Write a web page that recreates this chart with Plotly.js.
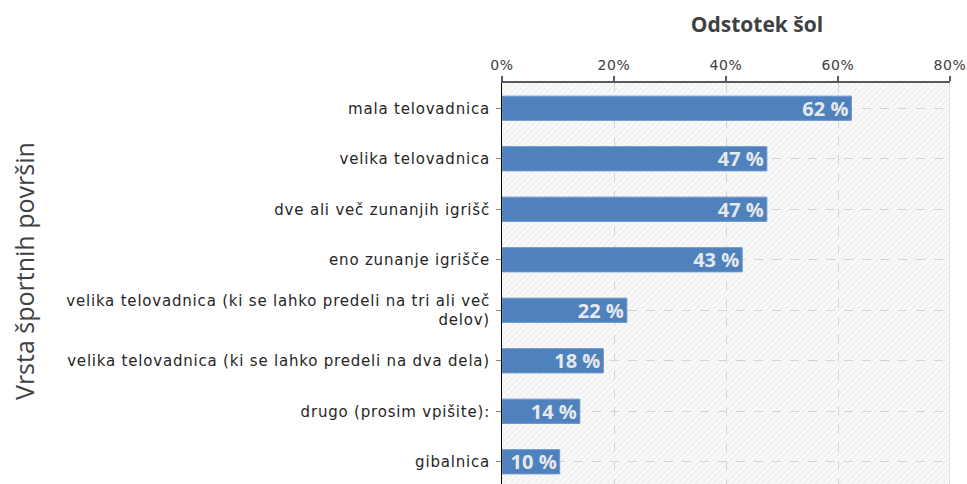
<!DOCTYPE html>
<html>
<head>
<meta charset="utf-8">
<script src="https://cdn.plot.ly/plotly-3.0.1.min.js"></script>
<style>
html,body{margin:0;padding:0;background:#fff;}
#chart{width:967px;height:484px;}
#chart .ytick text{letter-spacing:0.8px;}
#chart .xtick text{letter-spacing:0.6px;}
</style>
</head>
<body>
<div id="chart"></div>
<script>
const categories = [
  'mala telovadnica',
  'velika telovadnica',
  'dve ali več zunanjih igrišč',
  'eno zunanje igrišče',
  'velika telovadnica (ki se lahko predeli na tri ali več<br>delov)',
  'velika telovadnica (ki se lahko predeli na dva dela)',
  'drugo (prosim vpišite):',
  'gibalnica'
];
const values = [62.4, 47.3, 47.3, 42.9, 22.3, 18.1, 13.9, 10.3];
const valueLabels = ['62 %', '47 %', '47 %', '43 %', '22 %', '18 %', '14 %', '10 %'];
const xTickValues = [0, 20, 40, 60, 80];
const xTickLabels = ['0%', '20%', '40%', '60%', '80%'];

const W = 448, H = 401;
let lines = '';
for (let k = -H; k < W + H; k += 6) {
  lines += `<line x1="${k}" y1="${H}" x2="${k + H}" y2="0" stroke="#e9e9e9" stroke-width="1"/>`;
}
const svg = `<svg xmlns="http://www.w3.org/2000/svg" width="${W}" height="${H}" viewBox="0 0 ${W} ${H}"><rect width="${W}" height="${H}" fill="#f8f8f8"/>${lines}</svg>`;
const bgSrc = 'data:image/svg+xml;charset=utf-8,' + encodeURIComponent(svg);

const trace = {
  type: 'bar',
  orientation: 'h',
  y: categories,
  x: values,
  text: valueLabels,
  textposition: 'inside',
  insidetextanchor: 'end',
  constraintext: 'none',
  textfont: {family: 'Open Sans, DejaVu Sans, sans-serif', size: 20, color: '#e6e9ee', weight: 'bold'},
  marker: {color: '#4f81bd', line: {color: '#6a97cf', width: 1}},
  width: 0.48,
  hoverinfo: 'none'
};

const layout = {
  width: 967,
  height: 484,
  margin: {l: 502, r: 17, t: 83, b: 0, pad: 0},
  paper_bgcolor: '#ffffff',
  plot_bgcolor: '#f8f8f8',
  showlegend: false,
  font: {family: 'DejaVu Sans, sans-serif', size: 15, color: '#404040'},
  title: {
    text: 'Odstotek šol',
    x: 757 / 967, xanchor: 'center', xref: 'container',
    y: 1 - 25 / 484, yanchor: 'middle', yref: 'container',
    font: {family: 'Open Sans, sans-serif', size: 21, color: '#404040', weight: 'bold'}
  },
  xaxis: {
    side: 'top',
    range: [0, 80],
    tickvals: xTickValues,
    ticktext: xTickLabels,
    showline: true, linecolor: '#595959', linewidth: 2,
    ticks: 'outside', ticklen: 5, tickcolor: '#595959', tickwidth: 2,
    showgrid: true, gridcolor: '#d4d4d4', griddash: 'dash', gridwidth: 1,
    zeroline: false,
    tickfont: {family: 'DejaVu Sans, sans-serif', size: 14, color: '#404040'},
    fixedrange: true
  },
  yaxis: {
    type: 'category',
    range: [7.44, -0.5],
    showline: true, linecolor: '#000000', linewidth: 1,
    ticks: 'outside', ticklen: 5, tickcolor: '#808080',
    showgrid: true, gridcolor: '#d4d4d4', griddash: 'dash', gridwidth: 1,
    zeroline: false,
    tickfont: {family: 'DejaVu Sans, sans-serif', size: 15, color: '#262626'},
    ticklabelstandoff: 3,
    fixedrange: true
  },
  images: [{
    source: bgSrc, xref: 'paper', yref: 'paper', x: 0, y: 1, sizex: 1, sizey: 1,
    sizing: 'stretch', xanchor: 'left', yanchor: 'top', layer: 'below'
  }],
  shapes: [{
    type: 'line', xref: 'x', yref: 'paper', x0: 80, x1: 80, y0: 0, y1: 1,
    line: {color: '#d0d0d0', width: 1}, layer: 'below'
  }],
  annotations: [{
    text: 'Vrsta športnih površin',
    xref: 'paper', yref: 'paper',
    x: (24 - 502) / 448, y: 1 - (271 - 83) / 401,
    xanchor: 'center', yanchor: 'middle',
    textangle: -90, showarrow: false,
    font: {family: 'Open Sans, sans-serif', size: 25, color: '#404040'}
  }]
};

Plotly.newPlot('chart', [trace], layout, {displayModeBar: false, staticPlot: true});
</script>
</body>
</html>
